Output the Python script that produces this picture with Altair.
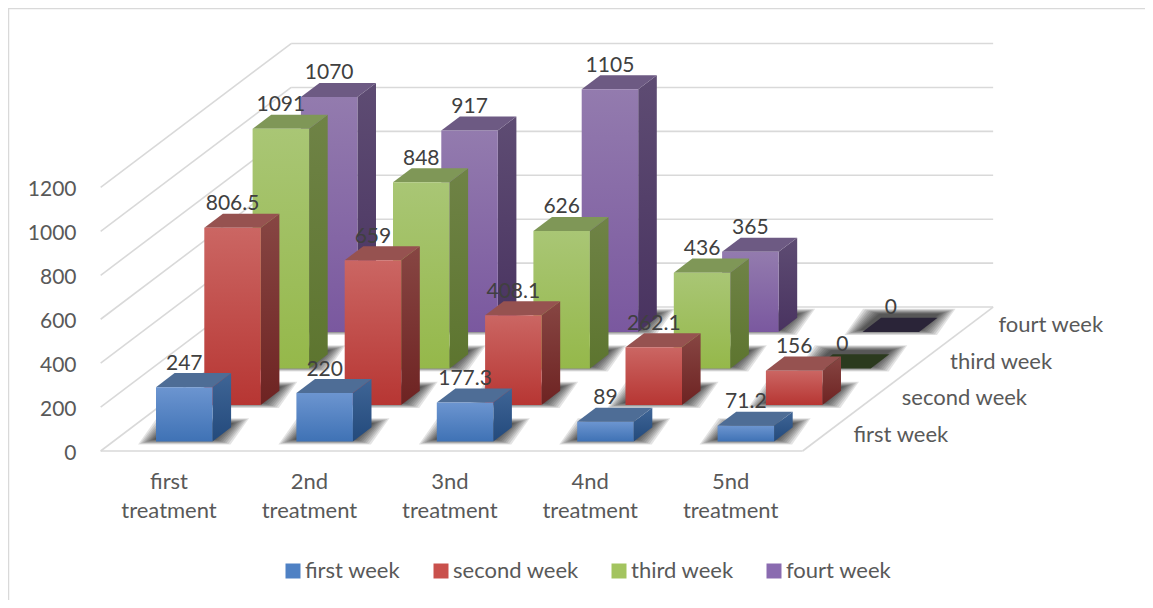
import altair as alt

# ---- data ----
treatments = ["first\ntreatment", "2nd\ntreatment", "3nd\ntreatment", "4nd\ntreatment", "5nd\ntreatment"]
weeks = ["first week", "second week", "third week", "fourt week"]
first_week = [247, 220, 177.3, 89, 71.2]
second_week = [806.5, 659, 408.1, 262.1, 156]
third_week = [1091, 848, 626, 436, 0]
fourt_week = [1070, 917, 1105, 365, 0]
series_values = [first_week, second_week, third_week, fourt_week]
axis_ticks = [0, 200, 400, 600, 800, 1000, 1200]

# ---- styles: (front top, front bottom, side top, side bottom, top face, zero footprint, legend) ----
styles = [
    ("#6c95d0", "#3f72b5", "#3f6596", "#234a7c", "#4e6d96", "#1f3050", "#4f81c4"),
    ("#cb6663", "#b73633", "#874643", "#6e2322", "#965250", "#401818", "#c9504c"),
    ("#a9c675", "#95b84a", "#6f8346", "#5d752f", "#7f9757", "#2b3a1e", "#a3c45f"),
    ("#937bae", "#7a589f", "#5e4c73", "#493360", "#6d5a83", "#2a2438", "#8a6bb0"),
]
TEXT = "#595959"
LABEL = "#404040"
GRID = "#d9d9d9"
FONT = "Lato"
NUM_SIZE = 21
WORD_SIZE = 22

# ---- oblique projection, in scale units ----
W, H = 1137, 592
PX_CAT = 140.4          # px per category
PX_VAL = 0.2196         # px per value unit
SHEAR_X = 48.3 / PX_CAT # x shift per depth slot, category units
SHEAR_Y = 36.5 / PX_VAL # y shift per depth slot, value units
BAR_W = 56.5 / PX_CAT
BAR_D = 0.385           # bar depth in slots
BASE = 9.6 / PX_VAL     # front bar sits this far above the floor front edge
U0, U1 = -0.274, 3.67   # floor depth range
C0, C1 = -0.3, 4.7      # floor category range
CAT_SHIFT = 0.187       # category labels, relative to the bar's slot

xscale = alt.Scale(domain=[(8 - 156) / PX_CAT, (8 + W - 156) / PX_CAT], range=[0, W], zero=False, nice=False)
yscale = alt.Scale(domain=[(451 - (H + 8)) / PX_VAL, (451 - 8) / PX_VAL], range=[H, 0], zero=False, nice=False)
yaxis = alt.Axis(values=axis_ticks, title=None, domain=False, ticks=False, grid=False, offset=-68, format="d",
                 labelFont=FONT, labelFontSize=NUM_SIZE, labelColor=TEXT, labelPadding=0, labelOffset=2)


def px(c, u):
    return c + u * SHEAR_X


def py(v, u):
    return v + BASE + u * SHEAR_Y


X = alt.X("x:Q", scale=xscale, axis=None)
X2 = alt.X2("x2:Q")
Y = alt.Y("y:Q", scale=yscale, axis=yaxis)
Y2 = alt.Y2("y2:Q")


def grad(a, b):
    return alt.Gradient(gradient="linear", x1=0, x2=0, y1=0, y2=1,
                        stops=[alt.GradientStop(color=a, offset=0), alt.GradientStop(color=b, offset=1)])


# ---- grid lines ----
grid_rows = []
for t in axis_ticks:
    for name, pts in (("L", [(C0, U0), (C0, U1)]), ("B", [(C0, U1), (C1, U1)])):
        for c, u in pts:
            grid_rows.append({"g": f"{name}{t}", "x": px(c, u), "y": t + (u - U0) * SHEAR_Y})
for g, pts in (("F", [(C0, U0), (C1, U0)]), ("R", [(C1, U0), (C1, U1)])):
    for c, u in pts:
        grid_rows.append({"g": g, "x": px(c, u), "y": (u - U0) * SHEAR_Y})

layers = [
    alt.Chart(alt.Data(values=grid_rows)).mark_line(color=GRID, strokeWidth=1.6).encode(x=X, y=Y, detail="g:N")
]

# ---- bars, back to front ----
LEVELS = [(18, 6), (16, 5.3), (14, 4.6), (12, 4), (10, 3.4), (8, 2.8), (6, 2.2), (4, 1.6), (2, 1)]
for s in (3, 2, 1, 0):
    vals = series_values[s]
    st = styles[s]
    shadow, side, top, front, zero = [], [], [], [], []
    for c, v in enumerate(vals):
        key = f"b{c}"
        for lv, (ex, ey) in enumerate(LEVELS):
            ex_u = ex / PX_CAT
            ey_v = ey / PX_VAL
            for u, sign in ((s, -1), (s + BAR_D, 1)):
                shadow.append({"g": f"{key}l{lv}", "y": py(0, u) + sign * ey_v + 3 / PX_VAL,
                               "x": px(c, u) - ex_u, "x2": px(c + BAR_W, u) + ex_u})
        rows = top if v > 0 else zero
        for u in (s, s + BAR_D):
            rows.append({"g": key, "y": py(v, u), "x": px(c, u), "x2": px(c + BAR_W, u)})
        if v > 0:
            for u in (s, s + BAR_D):
                side.append({"g": key, "x": px(c + BAR_W, u), "y": py(0, u), "y2": py(v, u)})
            for cc in (c, c + BAR_W):
                front.append({"g": key, "x": px(cc, s), "y": py(0, s), "y2": py(v, s)})
    layers.append(alt.Chart(alt.Data(values=shadow)).mark_area(orient="horizontal", color="#000000", opacity=0.11)
                  .encode(y=Y, x=X, x2=X2, detail="g:N"))
    if zero:
        layers.append(alt.Chart(alt.Data(values=zero)).mark_area(orient="horizontal", color=st[5])
                      .encode(y=Y, x=X, x2=X2, detail="g:N"))
    layers.append(alt.Chart(alt.Data(values=side)).mark_area(orient="vertical", color=grad(st[2], st[3]))
                  .encode(x=X, y=Y, y2=Y2, detail="g:N"))
    layers.append(alt.Chart(alt.Data(values=top)).mark_area(orient="horizontal", color=st[4])
                  .encode(y=Y, x=X, x2=X2, detail="g:N"))
    layers.append(alt.Chart(alt.Data(values=front)).mark_area(orient="vertical", color=grad(st[0], st[1]))
                  .encode(x=X, y=Y, y2=Y2, detail="g:N"))

# ---- data labels ----
label_rows = []
for s, vals in enumerate(series_values):
    for c, v in enumerate(vals):
        label_rows.append({"x": px(c + BAR_W / 2, s), "y": py(v, s + BAR_D), "t": f"{v:g}"})
layers.append(alt.Chart(alt.Data(values=label_rows))
              .mark_text(font=FONT, fontSize=NUM_SIZE, color=LABEL, dy=-9.5, baseline="middle", align="center")
              .encode(x=X, y=Y, text="t:N"))

# ---- category labels (below the floor front edge) ----
cat_rows = [{"x": px(c + CAT_SHIFT, U0), "y": 0, "t": t} for c, t in enumerate(treatments)]
layers.append(alt.Chart(alt.Data(values=cat_rows))
              .mark_text(font=FONT, fontSize=WORD_SIZE, color=TEXT, lineBreak="\n", lineHeight=29, baseline="top",
                         align="center", dy=21)
              .encode(x=X, y=Y, text="t:N"))

# ---- depth labels ----
week_rows = [{"x": px(C1, s + 0.22), "y": py(0, s + 0.22), "t": w} for s, w in enumerate(weeks)]
layers.append(alt.Chart(alt.Data(values=week_rows))
              .mark_text(font=FONT, fontSize=WORD_SIZE, color=TEXT, dx=27, dy=1.5, baseline="middle", align="left")
              .encode(x=X, y=Y, text="t:N"))

# ---- chart frame ----
layers.append(alt.Chart(alt.Data(values=[{"a": 1}])).mark_rule(color=GRID, strokeWidth=1.5)
              .encode(x=alt.value(0.5), y=alt.value(0), y2=alt.value(H)))
layers.append(alt.Chart(alt.Data(values=[{"a": 1}])).mark_rule(color=GRID, strokeWidth=1.5)
              .encode(y=alt.value(0.5), x=alt.value(0), x2=alt.value(W)))

# ---- legend ----
legend_rows = [{"w": w} for w in weeks]
layers.append(alt.Chart(alt.Data(values=legend_rows)).mark_square(size=0)
              .encode(x=alt.value(0), y=alt.value(0),
                      color=alt.Color("w:N",
                                      scale=alt.Scale(domain=weeks, range=[st[6] for st in styles]),
                                      legend=alt.Legend(orient="none", legendX=274, legendY=552, direction="horizontal",
                                                        columns=4, gridAlign="none", title=None, symbolType="square",
                                                        symbolSize=225, symbolStrokeWidth=0, symbolOpacity=1,
                                                        labelFont=FONT, labelFontSize=WORD_SIZE, labelColor=TEXT,
                                                        labelOffset=1, columnPadding=29, padding=0))))

chart = alt.layer(*layers).properties(
    width=W, height=H, padding=0, autosize=alt.AutoSizeParams(type="none"), background="white"
).configure_view(stroke=None)

chart.save("out.html", embed_options={"renderer": "svg", "actions": False})
